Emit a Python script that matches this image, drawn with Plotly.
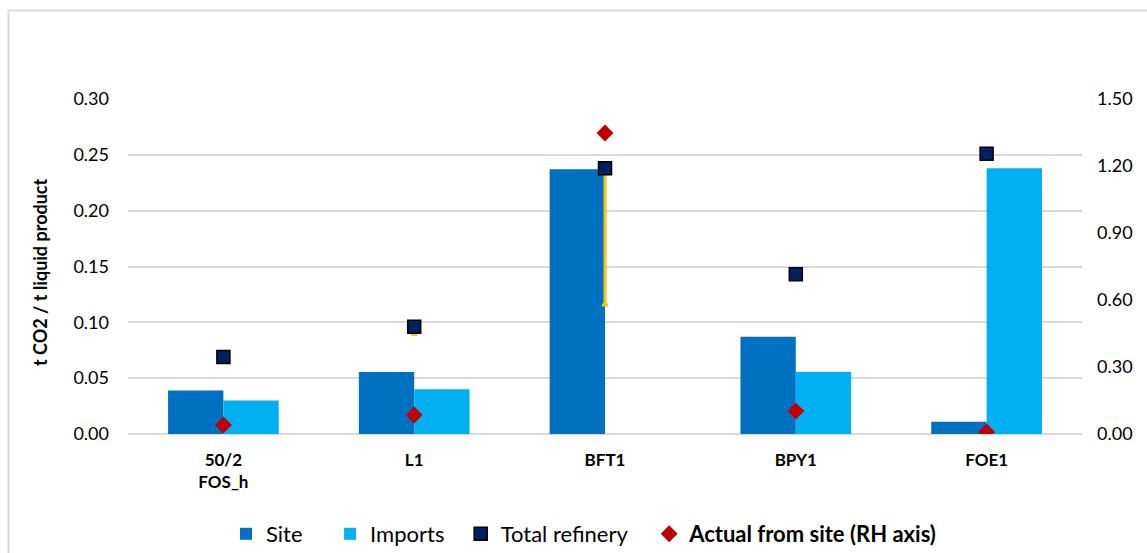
import plotly.graph_objects as go

categories = ["50/2<br>FOS_h", "L1", "BFT1", "BPY1", "FOE1"]
site = [0.039, 0.0555, 0.237, 0.087, 0.011]
imports = [0.030, 0.040, 0.0, 0.0555, 0.238]
total_refinery = [0.069, 0.096, 0.238, 0.143, 0.251]
total_err_minus = [0.0, 0.007, 0.1225, 0.0, 0.0]
actual_from_site = [0.040, 0.085, 1.348, 0.103, 0.009]

left_ticks = [0.0, 0.05, 0.10, 0.15, 0.20, 0.25, 0.30]
right_ticks = [0.0, 0.3, 0.6, 0.9, 1.2, 1.5]

FONT = "Lato, Open Sans, sans-serif"

fig = go.Figure()
fig.add_trace(go.Bar(x=categories, y=site, name="Site    ",
                     marker=dict(color="#0070C0", line=dict(width=0))))
fig.add_trace(go.Bar(x=categories, y=imports, name="Imports  ",
                     marker=dict(color="#00B0F0", line=dict(width=0))))
fig.add_trace(go.Scatter(x=categories, y=total_refinery, name="Total refinery   ",
                         mode="markers",
                         marker=dict(symbol="square", size=13, color="#002060",
                                     line=dict(color="#000000", width=1.5)),
                         error_y=dict(type="data", symmetric=False,
                                      array=[0] * len(total_err_minus),
                                      arrayminus=total_err_minus,
                                      color="#FFC000", thickness=3, width=3)))
fig.add_trace(go.Scatter(x=categories, y=actual_from_site,
                         name="<b>Actual from site (RH axis)</b>",
                         mode="markers", yaxis="y2",
                         marker=dict(symbol="diamond", size=13, color="#C00000",
                                     line=dict(width=0))))

ml, mr, mt, mb = 128, 65, 99, 119
pw = 1147 - ml - mr
ph = 553 - mt - mb

fig.update_layout(
    width=1147, height=553,
    margin=dict(l=ml, r=mr, t=mt, b=mb, autoexpand=False),
    paper_bgcolor="white", plot_bgcolor="white",
    barmode="group", bargap=0.42, bargroupgap=0,
    font=dict(family=FONT, size=18, color="#000000"),
    showlegend=True,
    legend=dict(orientation="h", x=(584 - ml) / pw, xanchor="center",
                y=(434 - 534) / ph, yanchor="middle",
                font=dict(size=22, family=FONT), itemwidth=30,
                traceorder="normal"),
    xaxis=dict(showgrid=False, showline=False, ticks="",
               tickfont=dict(size=17, family=FONT, weight="bold"),
               ticklabelstandoff=14),
    yaxis=dict(range=[0, 0.30], tickvals=left_ticks, tickformat=".2f",
               showgrid=True, gridcolor="#D9D9D9", gridwidth=1.5,
               zeroline=True, zerolinecolor="#D9D9D9", zerolinewidth=1.5,
               showline=False, ticks="", ticklabelstandoff=18,
               tickfont=dict(size=18, family=FONT)),
    yaxis2=dict(range=[0, 1.5], tickvals=right_ticks, tickformat=".2f",
                overlaying="y", side="right", showgrid=False, zeroline=False,
                showline=False, ticks="", ticklabelstandoff=14,
                tickfont=dict(size=18, family=FONT)),
    annotations=[dict(text="<b>t CO2 / t liquid product</b>", textangle=-90,
                      x=(40 - ml) / pw, xref="paper", xanchor="center",
                      y=(434 - 272) / ph, yref="paper", yanchor="middle",
                      showarrow=False, font=dict(size=18, family=FONT))],
    shapes=[
        dict(type="line", xref="paper", yref="paper",
             x0=(8.5 - ml) / pw, x1=(1200 - ml) / pw,
             y0=1 + (mt - 10.5) / ph, y1=1 + (mt - 10.5) / ph,
             line=dict(color="#D9D9D9", width=2)),
        dict(type="line", xref="paper", yref="paper",
             x0=(8.5 - ml) / pw, x1=(8.5 - ml) / pw,
             y0=1 + (mt - 10.5) / ph, y1=-(600 - 434) / ph,
             line=dict(color="#D9D9D9", width=2)),
    ],
)

fig.write_html("out.html", config={"displayModeBar": False},
               post_script="document.body.style.margin='0';document.body.style.overflow='hidden';")
